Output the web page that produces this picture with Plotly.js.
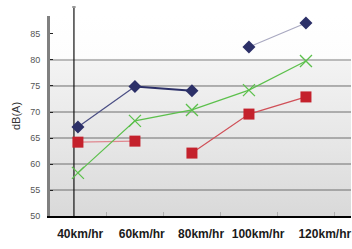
<!DOCTYPE html>
<html>
<head>
<meta charset="utf-8">
<script src="https://cdn.plot.ly/plotly-3.0.1.min.js"></script>
<style>
  html, body { margin: 0; padding: 0; background: #ffffff; }
  #wrap { position: relative; width: 352px; height: 249px; }
  #bg { position: absolute; left: 50px; top: 16px; width: 301px; height: 200px;
        background: linear-gradient(to bottom, #ffffff 0px, #fdfdfd 42px, #f3f3f3 46px, #e6e6e6 130px, #d9d9d9 200px); }
  #chart { position: absolute; left: 0; top: 0; width: 352px; height: 249px; }
</style>
</head>
<body>
<div id="wrap"><div id="bg"></div><div id="chart"></div></div>
<script>
// ---- data ----
const speeds = ['40km/hr', '60km/hr', '80km/hr', '100km/hr', '120km/hr'];
const xIndex = [0, 1, 2, 3, 4];
const blueValues  = [67.1, 74.9, 74.1, 82.5, 87.1];
const redValues   = [64.2, 64.4, 62.1, 69.6, 72.9];
const greenValues = [58.3, 68.3, 70.4, 74.2, 79.8];
const blueBreakAfter = 2;   // no line between 80km/hr and 100km/hr
const redBreakAfter = 1;    // no line between 60km/hr and 80km/hr
const gridValues = [55, 60, 65, 70, 75];
const yTicks = [50, 55, 60, 65, 70, 75, 80, 85];

// label positions (labels sit slightly right of the points in the reference)
const labelPos = [0.04, 1.12, 2.16, 3.16, 4.33];

const navy = '#2c3068', red = '#c4212c', green = '#5cc04c';

function segs(vals, brk) {
  if (brk == null) return [[xIndex, vals]];
  return [[xIndex.slice(0, brk + 1), vals.slice(0, brk + 1)],
          [xIndex.slice(brk + 1), vals.slice(brk + 1)]];
}

const traces = [];
// lines
const blueSegs = segs(blueValues, blueBreakAfter);
traces.push({x: [xIndex[0], xIndex[1]], y: [blueValues[0], blueValues[1]], mode: 'lines',
  line: {color: '#4a4e84', width: 1.2}, hoverinfo: 'skip', showlegend: false});
traces.push({x: [xIndex[1], xIndex[2]], y: [blueValues[1], blueValues[2]], mode: 'lines',
  line: {color: navy, width: 2}, hoverinfo: 'skip', showlegend: false});
traces.push({x: blueSegs[1][0], y: blueSegs[1][1], mode: 'lines',
  line: {color: '#a8a8c0', width: 1.2}, hoverinfo: 'skip', showlegend: false});

const redSegs = segs(redValues, redBreakAfter);
traces.push({x: redSegs[0][0], y: redSegs[0][1], mode: 'lines',
  line: {color: '#e08890', width: 1.2}, hoverinfo: 'skip', showlegend: false});
traces.push({x: redSegs[1][0], y: redSegs[1][1], mode: 'lines',
  line: {color: '#d05058', width: 1.2}, hoverinfo: 'skip', showlegend: false});

traces.push({x: xIndex, y: greenValues, mode: 'lines',
  line: {color: green, width: 1.2}, hoverinfo: 'skip', showlegend: false});

// markers
traces.push({x: xIndex, y: blueValues, mode: 'markers', showlegend: false,
  marker: {symbol: 'diamond', size: 10, color: navy}});
traces.push({x: xIndex, y: redValues, mode: 'markers', showlegend: false,
  marker: {symbol: 'square', size: 11, color: red}});
traces.push({x: xIndex, y: greenValues, mode: 'markers', showlegend: false,
  marker: {symbol: 'x-thin', size: 12, color: green, line: {color: green, width: 1.3}}});

const shapes = [];
gridValues.forEach(v => shapes.push({type: 'line', xref: 'paper', yref: 'y', x0: 0, x1: 1, y0: v, y1: v,
  line: {color: '#6e6e6e', width: 1}, layer: 'below'}));
shapes.push({type: 'line', xref: 'paper', yref: 'y', x0: 0, x1: 1, y0: 80, y1: 80,
  line: {color: '#a6a6a6', width: 1.5}, layer: 'below'});
// black vertical line
shapes.push({type: 'line', xref: 'x', yref: 'paper', x0: -0.07, x1: -0.07, y0: 0, y1: 1.04,
  line: {color: '#111111', width: 1.2}, layer: 'below'});
shapes.push({type: 'line', xref: 'x', yref: 'paper', x0: -0.1, x1: -0.04, y0: 1.045, y1: 1.045,
  line: {color: '#333333', width: 1}, layer: 'below'});

const layout = {
  width: 352, height: 249,
  margin: {l: 50, r: 1, t: 16, b: 33},
  paper_bgcolor: 'rgba(0,0,0,0)', plot_bgcolor: 'rgba(0,0,0,0)',
  showlegend: false,
  xaxis: {
    range: [-0.49, 4.79], tickmode: 'array', tickvals: labelPos, ticktext: speeds,
    showgrid: false, zeroline: false, ticks: '',
    showline: true, linecolor: '#000000', linewidth: 2,
    tickfont: {family: 'Liberation Sans, Arial, sans-serif', size: 12, color: '#1a1a1a', weight: 'bold'},
    ticklabelstandoff: 6,
    minor: {tick0: 0.5, dtick: 1, ticks: 'inside', ticklen: 4, tickcolor: '#b0b0b0', showgrid: false}
  },
  yaxis: {
    range: [50, 88.46], tickmode: 'array', tickvals: yTicks,
    showgrid: false, zeroline: false,
    ticks: 'inside', ticklen: 3, tickcolor: '#222',
    showline: true, linecolor: '#808080', linewidth: 3,
    tickfont: {family: 'Liberation Sans Narrow, Liberation Sans, Arial, sans-serif', size: 9, color: '#555'},
    ticklabelstandoff: 5,
    title: {text: 'dB(A)', font: {family: 'Liberation Sans, Arial, sans-serif', size: 11, color: '#333'}, standoff: 8}
  },
  shapes: shapes
};

Plotly.newPlot('chart', traces, layout, {displayModeBar: false, staticPlot: true});
</script>
</body>
</html>
